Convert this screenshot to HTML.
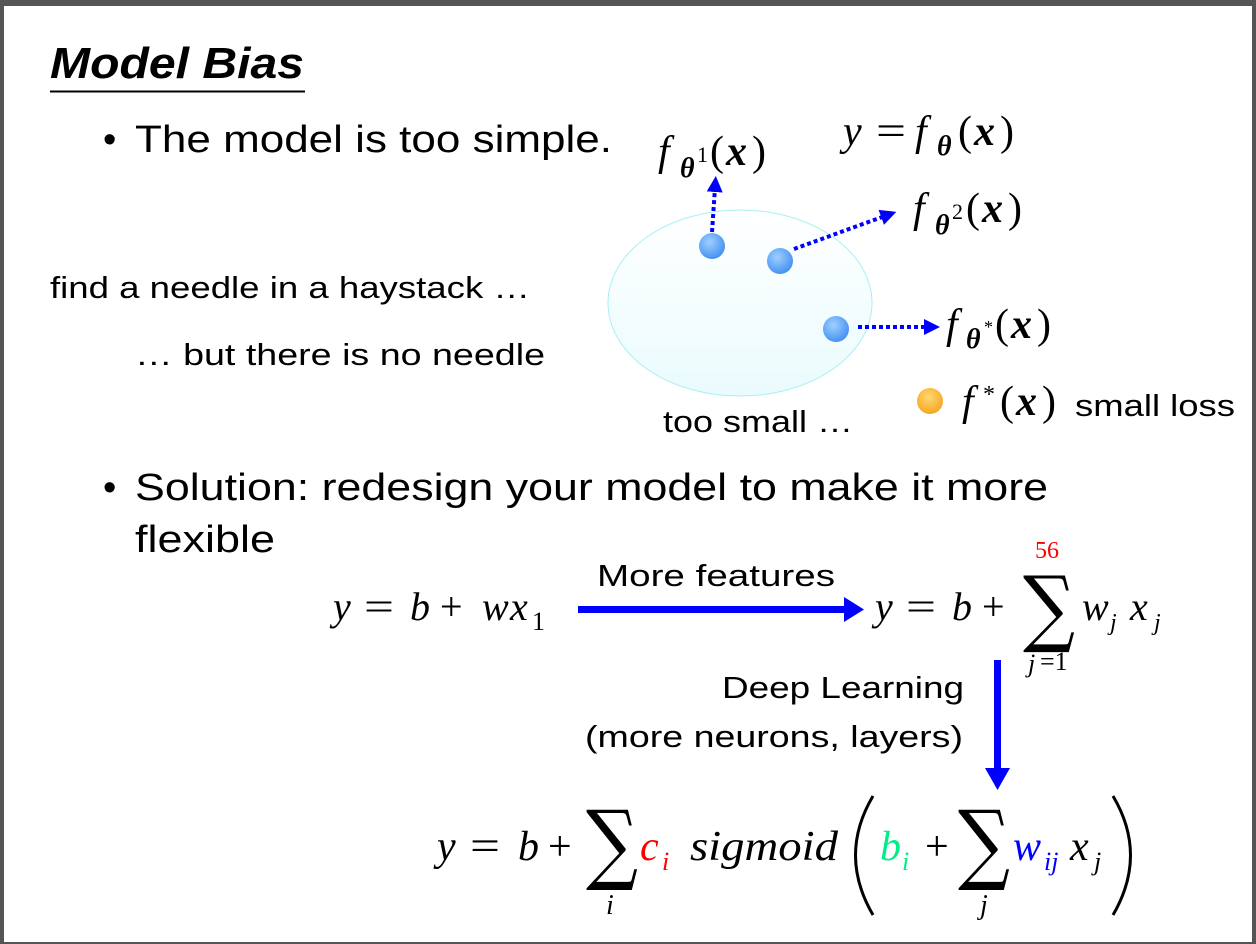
<!DOCTYPE html>
<html><head><meta charset="utf-8"><style>
html,body{margin:0;padding:0;background:#fff;}
svg{display:block;}
.s{font-family:"Liberation Sans",sans-serif;fill:#000;}
.m{font-family:"Liberation Serif",serif;font-style:italic;fill:#000;}
.r{font-family:"Liberation Serif",serif;fill:#000;}
.g{font-family:"DejaVu Serif",serif;fill:#000;}
</style></head><body>
<svg width="1256" height="944" viewBox="0 0 1256 944" xmlns="http://www.w3.org/2000/svg">
<defs>
<radialGradient id="dot" cx="40%" cy="35%" r="70%"><stop offset="0" stop-color="#9fd0ff"/><stop offset="1" stop-color="#3f8ef0"/></radialGradient>
<radialGradient id="odot" cx="45%" cy="35%" r="70%"><stop offset="0" stop-color="#ffd870"/><stop offset="1" stop-color="#f5a21c"/></radialGradient>
<linearGradient id="ell" x1="0" y1="0" x2="0" y2="1"><stop offset="0" stop-color="#ffffff"/><stop offset="1" stop-color="#eafbfd"/></linearGradient>
<marker id="ah" markerWidth="4" markerHeight="4" refX="1" refY="2" orient="auto" markerUnits="strokeWidth"><path d="M0,0 L4,2 L0,4 z" fill="#0000ff"/></marker>
</defs>
<rect x="0" y="0" width="1256" height="944" fill="#555"/>
<rect x="4" y="6" width="1248" height="936" fill="#fff"/>

<text class="s" x="50" y="78" font-size="44" font-weight="bold" font-style="italic" textLength="254" lengthAdjust="spacingAndGlyphs">Model Bias</text>
<line x1="50" y1="91.5" x2="305" y2="91.5" stroke="#000" stroke-width="2"/>

<text class="s" x="103" y="152" font-size="38">•</text>
<text class="s" x="135" y="152" font-size="38" textLength="477" lengthAdjust="spacingAndGlyphs">The model is too simple.</text>

<text class="s" x="50" y="298" font-size="31" textLength="480" lengthAdjust="spacingAndGlyphs">find a needle in a haystack …</text>
<text class="s" x="135" y="365" font-size="31" textLength="410" lengthAdjust="spacingAndGlyphs">… but there is no needle</text>

<ellipse cx="740" cy="303" rx="132" ry="93" fill="url(#ell)" stroke="#a8f0f4" stroke-width="1"/>
<text class="s" x="663" y="432" font-size="31" textLength="190" lengthAdjust="spacingAndGlyphs">too small …</text>

<line x1="712" y1="232" x2="715" y2="188" stroke="#0000ff" stroke-width="4" stroke-dasharray="4,3" marker-end="url(#ah)"/>
<line x1="794" y1="249" x2="885" y2="216" stroke="#0000ff" stroke-width="4" stroke-dasharray="4,3" marker-end="url(#ah)"/>
<line x1="858" y1="327" x2="928" y2="327" stroke="#0000ff" stroke-width="4" stroke-dasharray="4,3" marker-end="url(#ah)"/>
<circle cx="712" cy="246" r="13" fill="url(#dot)"/>
<circle cx="780" cy="261" r="13" fill="url(#dot)"/>
<circle cx="836" cy="329" r="13" fill="url(#dot)"/>
<circle cx="930" cy="401" r="13" fill="url(#odot)"/>

<text class="m" x="843" y="145" font-size="42">y</text>
<text class="r" x="876" y="145" font-size="42" textLength="30" lengthAdjust="spacingAndGlyphs">=</text>
<text class="m" x="915" y="145" font-size="42">f</text>
<text class="m" x="937" y="155" font-size="28" font-weight="bold">θ</text>
<text class="r" x="958" y="145" font-size="42">(</text>
<text class="m" x="974" y="145" font-size="42" font-weight="bold">x</text>
<text class="r" x="1000" y="145" font-size="42">)</text>

<text class="m" x="658" y="165" font-size="42">f</text>
<text class="m" x="680" y="177" font-size="28" font-weight="bold">θ</text>
<text class="r" x="697" y="162" font-size="22">1</text>
<text class="r" x="710" y="165" font-size="42">(</text>
<text class="m" x="726" y="165" font-size="42" font-weight="bold">x</text>
<text class="r" x="752" y="165" font-size="42">)</text>

<text class="m" x="913" y="222" font-size="42">f</text>
<text class="m" x="935" y="234" font-size="28" font-weight="bold">θ</text>
<text class="r" x="952" y="219" font-size="22">2</text>
<text class="r" x="966" y="222" font-size="42">(</text>
<text class="m" x="982" y="222" font-size="42" font-weight="bold">x</text>
<text class="r" x="1008" y="222" font-size="42">)</text>

<text class="m" x="946" y="338" font-size="42">f</text>
<text class="m" x="966" y="348" font-size="28" font-weight="bold">θ</text>
<text class="r" x="984" y="333" font-size="18">*</text>
<text class="r" x="995" y="338" font-size="42">(</text>
<text class="m" x="1011" y="338" font-size="42" font-weight="bold">x</text>
<text class="r" x="1037" y="338" font-size="42">)</text>

<text class="m" x="962" y="415" font-size="42">f</text>
<text class="r" x="983" y="402" font-size="24">*</text>
<text class="r" x="1000" y="415" font-size="42">(</text>
<text class="m" x="1016" y="415" font-size="42" font-weight="bold">x</text>
<text class="r" x="1042" y="415" font-size="42">)</text>
<text class="s" x="1075" y="416" font-size="31" textLength="160" lengthAdjust="spacingAndGlyphs">small loss</text>

<text class="s" x="103" y="500" font-size="38">•</text>
<text class="s" x="135" y="500" font-size="38" textLength="913" lengthAdjust="spacingAndGlyphs">Solution: redesign your model to make it more</text>
<text class="s" x="135" y="552" font-size="38" textLength="140" lengthAdjust="spacingAndGlyphs">flexible</text>

<text class="m" x="333" y="620" font-size="40">y</text>
<text class="r" x="364" y="620" font-size="40" textLength="30" lengthAdjust="spacingAndGlyphs">=</text>
<text class="m" x="410" y="620" font-size="40">b</text>
<text class="r" x="440" y="620" font-size="40">+</text>
<text class="m" x="482" y="620" font-size="40">w</text>
<text class="m" x="510" y="620" font-size="40">x</text>
<text class="r" x="532" y="630" font-size="26">1</text>

<text class="s" x="597" y="586" font-size="31" textLength="238" lengthAdjust="spacingAndGlyphs">More features</text>
<rect x="578" y="606" width="268" height="7" fill="#0000ff"/>
<path d="M844,597 L864,609.5 L844,622 z" fill="#0000ff"/>

<text class="m" x="875" y="620" font-size="40">y</text>
<text class="r" x="906" y="620" font-size="40" textLength="30" lengthAdjust="spacingAndGlyphs">=</text>
<text class="m" x="952" y="620" font-size="40">b</text>
<text class="r" x="982" y="620" font-size="40">+</text>
<text class="g" x="1023" y="636" font-size="84" textLength="52" lengthAdjust="spacingAndGlyphs">∑</text>
<text class="r" x="1035" y="558" font-size="24" style="fill:#ff0000">56</text>
<text class="m" x="1028" y="672" font-size="26">j</text>
<text class="r" x="1040" y="670" font-size="26">=1</text>
<text class="m" x="1082" y="620" font-size="40">w</text><text class="m" x="1110" y="630" font-size="24">j</text>
<text class="m" x="1130" y="620" font-size="40">x</text><text class="m" x="1154" y="630" font-size="24">j</text>

<text class="s" x="722" y="698" font-size="31" textLength="242" lengthAdjust="spacingAndGlyphs">Deep Learning</text>
<text class="s" x="585" y="747" font-size="31" textLength="378" lengthAdjust="spacingAndGlyphs">(more neurons, layers)</text>
<rect x="994" y="660" width="7" height="110" fill="#0000ff"/>
<path d="M985,768 L997.5,790 L1010,768 z" fill="#0000ff"/>

<text class="m" x="437" y="860" font-size="42">y</text>
<text class="r" x="470" y="860" font-size="42" textLength="30" lengthAdjust="spacingAndGlyphs">=</text>
<text class="m" x="518" y="860" font-size="42">b</text>
<text class="r" x="548" y="860" font-size="42">+</text>
<text class="g" x="586" y="873" font-size="88" textLength="52" lengthAdjust="spacingAndGlyphs">∑</text>
<text class="m" x="606" y="914" font-size="28">i</text>
<text class="m" x="640" y="860" font-size="42" style="fill:#ff0000">c</text><text class="m" x="662" y="870" font-size="26" style="fill:#ff0000">i</text>
<text class="m" x="690" y="860" font-size="42" textLength="148" lengthAdjust="spacingAndGlyphs">sigmoid</text>
<path d="M873,796 Q838,855 873,915" stroke="#000" stroke-width="3" fill="none"/>
<text class="m" x="880" y="860" font-size="42" style="fill:#00ee88">b</text><text class="m" x="902" y="870" font-size="26" style="fill:#00ee88">i</text>
<text class="r" x="925" y="860" font-size="42">+</text>
<text class="g" x="958" y="873" font-size="88" textLength="52" lengthAdjust="spacingAndGlyphs">∑</text>
<text class="m" x="980" y="914" font-size="28">j</text>
<text class="m" x="1013" y="860" font-size="42" style="fill:#0000ff">w</text><text class="m" x="1044" y="870" font-size="26" style="fill:#0000ff">ij</text>
<text class="m" x="1070" y="860" font-size="42">x</text><text class="m" x="1094" y="870" font-size="26">j</text>
<path d="M1113,796 Q1148,855 1113,915" stroke="#000" stroke-width="3" fill="none"/>
</svg>
</body></html>
